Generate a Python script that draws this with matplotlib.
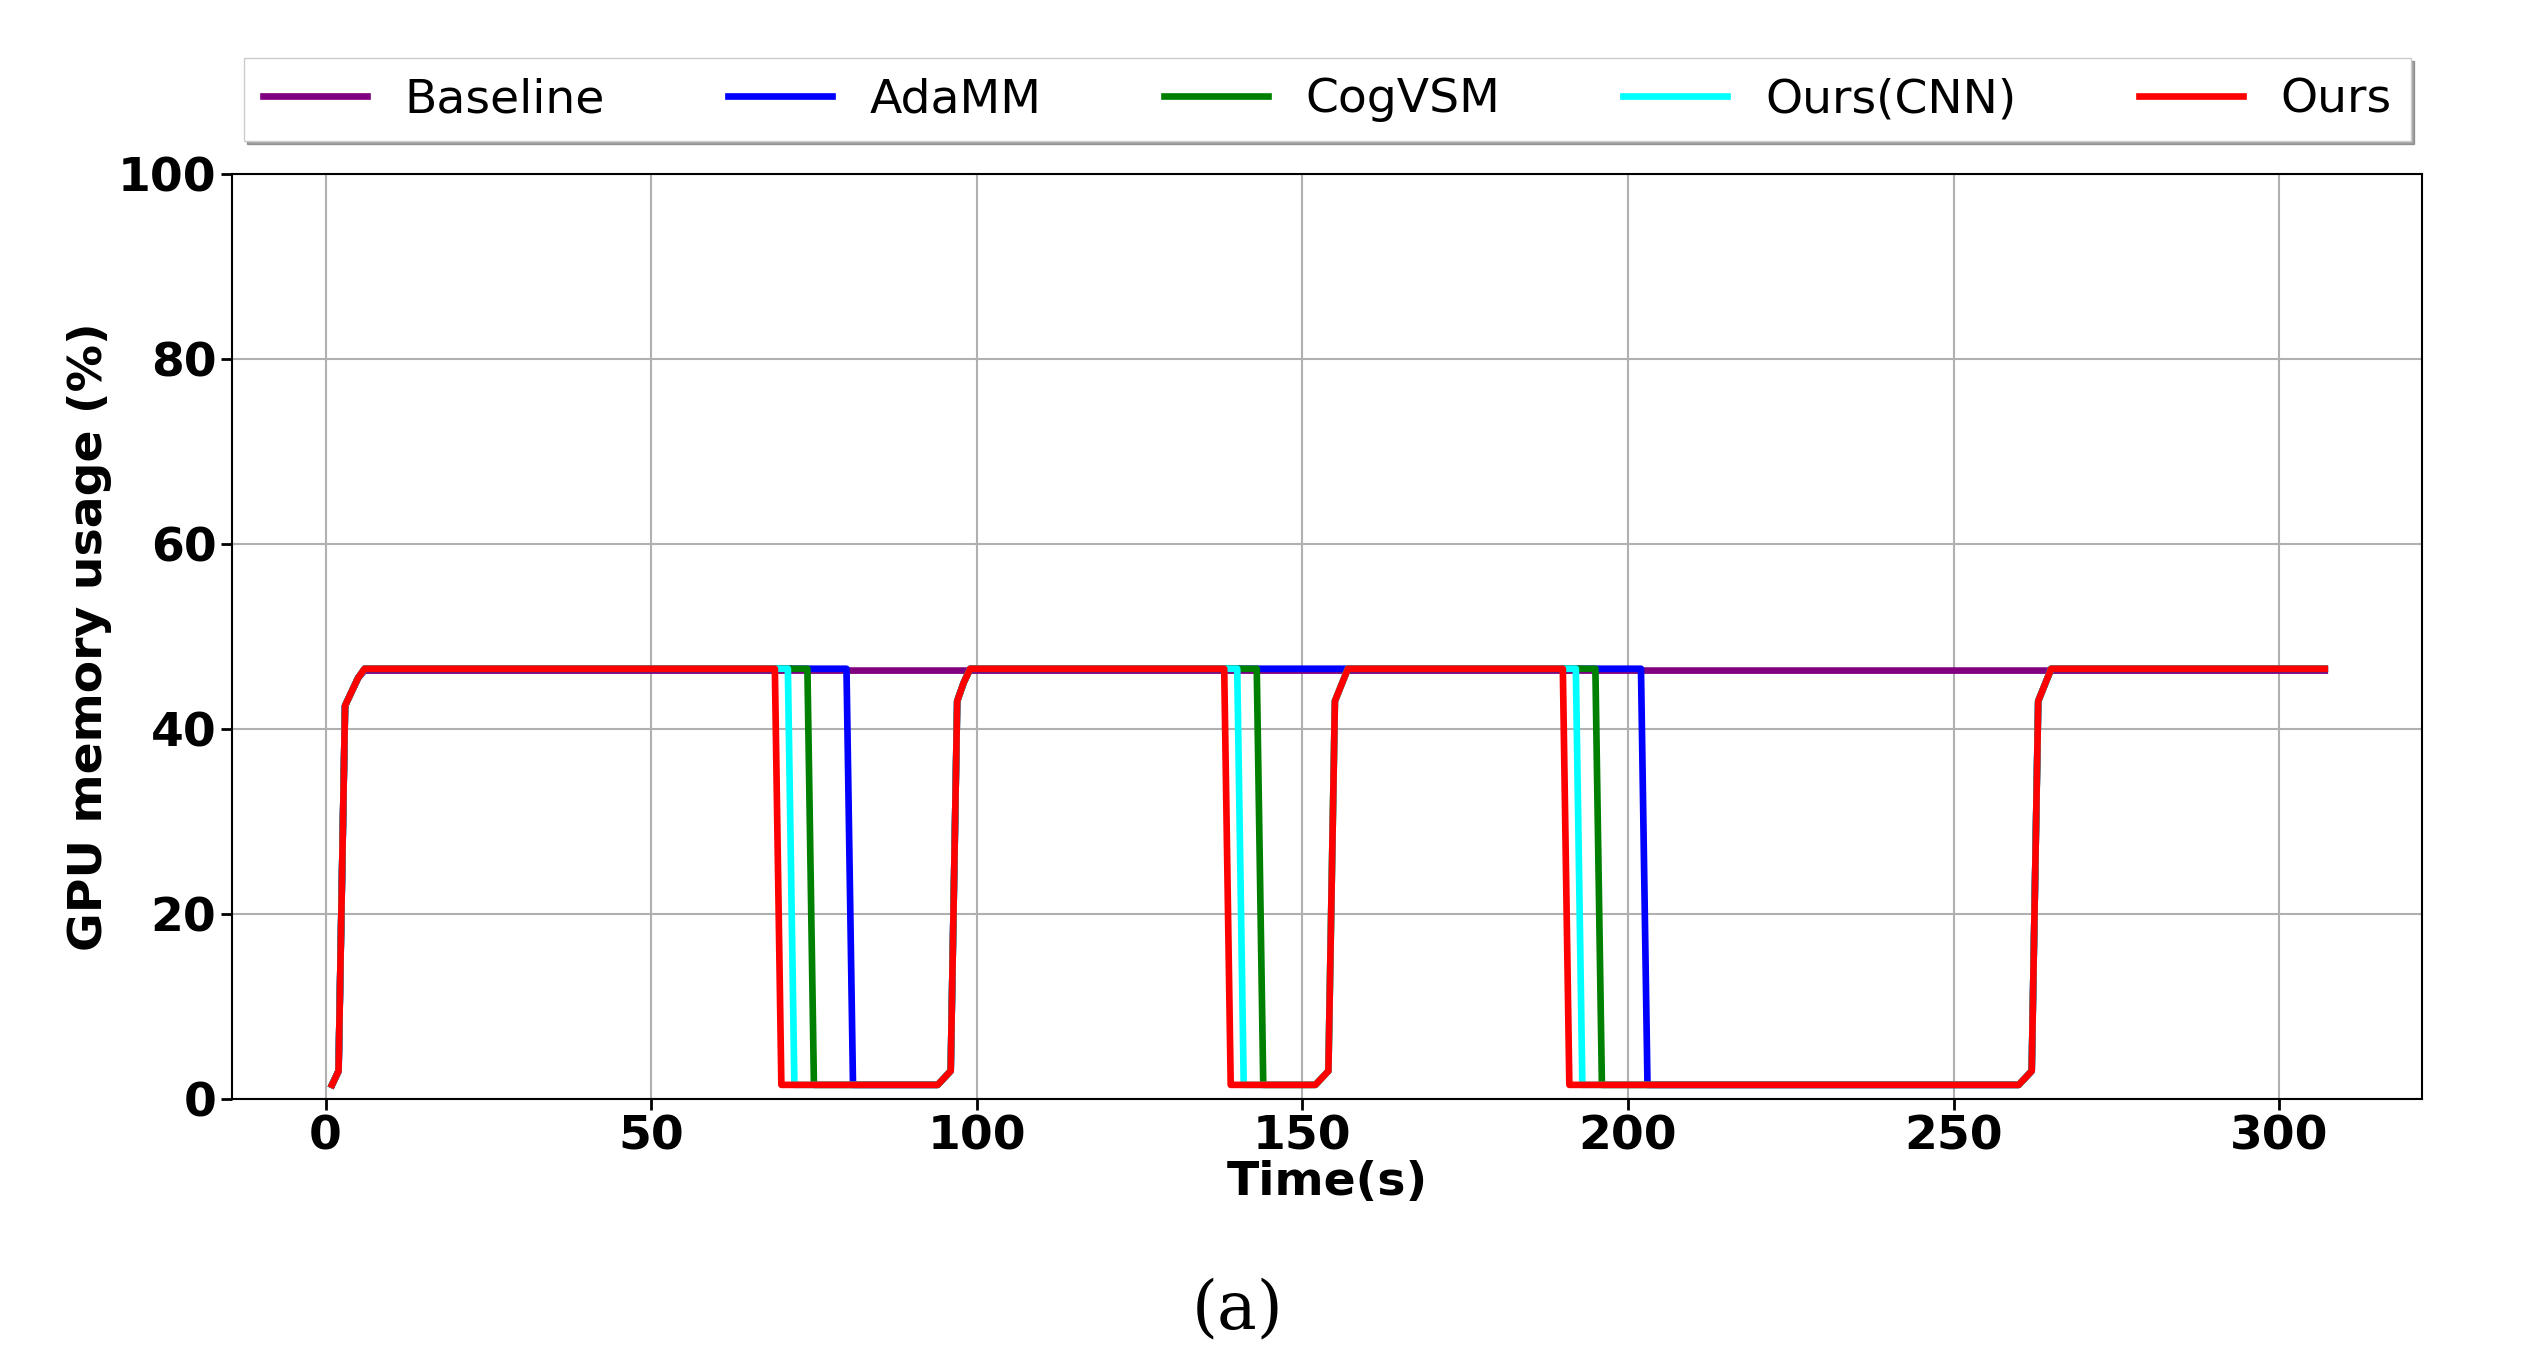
import matplotlib
matplotlib.use('Agg')
import matplotlib.pyplot as plt

# breakpoints (time s, GPU memory %)
ours_t = [1, 2, 3, 5, 6, 69, 70, 94, 96, 97, 98, 99, 138, 139, 152, 154, 155, 157, 190, 191, 260, 262, 263, 265, 307]
ours_y = [1.5, 3, 42.5, 45.5, 46.5, 46.5, 1.5, 1.5, 3, 43, 45, 46.5, 46.5, 1.5, 1.5, 3, 43, 46.5, 46.5, 1.5, 1.5, 3, 43, 46.5, 46.5]

cnn_t = [1, 2, 3, 5, 6, 71, 72, 94, 96, 97, 98, 99, 140, 141, 152, 154, 155, 157, 192, 193, 260, 262, 263, 265, 307]
cnn_y = ours_y

cog_t = [1, 2, 3, 5, 6, 74, 75, 94, 96, 97, 98, 99, 143, 144, 152, 154, 155, 157, 195, 196, 260, 262, 263, 265, 307]
cog_y = ours_y

ada_t = [1, 2, 3, 5, 6, 80, 81, 94, 96, 97, 98, 99, 202, 203, 260, 262, 263, 265, 307]
ada_y = [1.5, 3, 42.5, 45.5, 46.5, 46.5, 1.5, 1.5, 3, 43, 45, 46.5, 46.5, 1.5, 1.5, 3, 43, 46.5, 46.5]

base_t = [1, 2, 3, 5, 6, 307]
base_y = [1.5, 3, 42.5, 45.5, 46.3, 46.3]

fig = plt.figure(figsize=(25.26, 13.7), dpi=100)
ax = fig.add_axes([0.092, 0.198, 0.867, 0.675])

lw = 4.8
ax.plot(base_t, base_y, color='purple', lw=lw, label='Baseline')
ax.plot(ada_t, ada_y, color='blue', lw=lw, label='AdaMM')
ax.plot(cog_t, cog_y, color='green', lw=lw, label='CogVSM')
ax.plot(cnn_t, cnn_y, color='cyan', lw=lw, label='Ours(CNN)')
ax.plot(ours_t, ours_y, color='red', lw=lw, label='Ours')

ax.set_xlim(-14.3, 322)
ax.set_ylim(0, 100)
ax.set_xticks([0, 50, 100, 150, 200, 250, 300])
ax.set_yticks([0, 20, 40, 60, 80, 100])
ax.grid(True, color='#b0b0b0', lw=1.5)
ax.tick_params(labelsize=34, width=2, length=8)
for lab in ax.get_xticklabels() + ax.get_yticklabels():
    lab.set_fontweight('bold')
for s in ax.spines.values():
    s.set_linewidth(1.5)
ax.set_xlabel('Time(s)', fontsize=34, fontweight='bold', labelpad=0)
ax.set_ylabel('GPU memory usage (%)', fontsize=34, fontweight='bold')

ax.legend(loc='lower center', bbox_to_anchor=(0.5, 1.01), ncol=5, fontsize=34,
          frameon=True, shadow=True, fancybox=False, handlelength=2.2,
          columnspacing=2.6, borderpad=0.4)

fig.text(0.49, 0.03, '(a)', fontsize=48, family='DejaVu Serif', ha='center')

fig.savefig('out.png', dpi=100)
